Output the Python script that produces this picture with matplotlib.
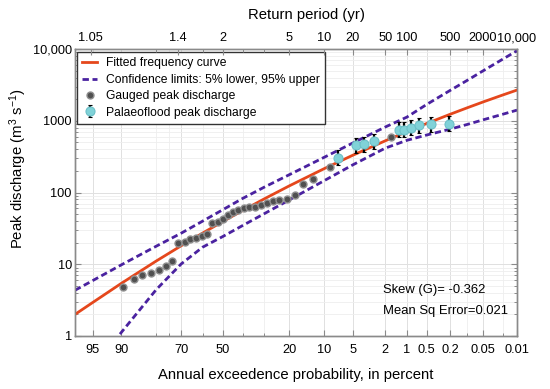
import numpy as np
import matplotlib
matplotlib.use('Agg')
import matplotlib.pyplot as plt
from matplotlib.ticker import FixedLocator, NullFormatter, LogLocator
from statistics import NormalDist

plt.rcParams['font.family'] = ['Liberation Sans', 'DejaVu Sans']
plt.rcParams['mathtext.fontset'] = 'custom'
plt.rcParams['mathtext.rm'] = 'Liberation Sans'
plt.rcParams['mathtext.it'] = 'Liberation Sans:italic'
plt.rcParams['mathtext.bf'] = 'Liberation Sans:bold'

# ---------------- data (annual exceedance probability in percent, discharge m3/s)
curve_p = [96.9, 95, 90, 80, 70, 60, 50, 40, 30, 20, 10, 5, 2, 1, 0.5, 0.2, 0.1, 0.05, 0.02, 0.01]
fitted_q = [2.0, 2.92, 5.41, 11.06, 18.1, 27.2, 39.3, 56.2, 81.4, 123.7, 214.8, 331, 525, 705, 914, 1236, 1516, 1828, 2288, 2676]
upper_q = [4.34, 5.9, 9.8, 17.8, 27.1, 39.9, 57.4, 82.8, 118.6, 177, 309, 490, 817, 1122, 1683, 2663, 3656, 4965, 7230, 9460]
lower_q = [0.19, 0.36, 1.12, 4.41, 10.1, 17.3, 24.3, 34.7, 50.6, 78.8, 146, 243, 415, 533, 632, 766, 888, 1030, 1233, 1406]

gauged_p = [89.7, 87.0, 84.5, 81.8, 79.1, 76.3, 73.8, 71.4, 68.5, 65.9, 63.1, 60.4, 57.9, 55.4,
            52.6, 49.9, 47.5, 44.6, 42.1, 39.6, 36.8, 34.1, 31.5, 28.8, 26.3, 23.7, 20.9, 18.0,
            15.6, 12.7, 8.74, 1.68]
gauged_q = [4.8, 6.2, 7.1, 7.6, 8.2, 9.5, 11.1, 19.8, 20.7, 22.3, 23.1, 24.6, 26.2, 37.7,
            39.3, 43.3, 48.0, 54.2, 57.2, 60.4, 63.0, 63.6, 66.5, 72.3, 76.4, 79.6, 81.4, 92.6,
            130.6, 153.4, 227.5, 596]

palaeo_p = [7.19, 4.59, 3.70, 2.79, 1.29, 1.09, 0.866, 0.648, 0.428, 0.212]
palaeo_q = [304, 457, 472, 516, 747, 754, 804, 869, 897, 914]
palaeo_lo = [239, 359, 371, 405, 587, 592, 632, 683, 705, 718]
palaeo_hi = [387, 582, 601, 657, 951, 960, 1024, 1106, 1142, 1164]

bottom_ticks = [95, 90, 70, 50, 20, 10, 5, 2, 1, 0.5, 0.2, 0.05, 0.01]
bottom_labels = ['95', '90', '70', '50', '20', '10', '5', '2', '1', '0.5', '0.2', '0.05', '0.01']
bottom_minor = [80, 75, 60, 40, 30, 0.1, 0.02]
top_periods = [1.05, 1.4, 2, 5, 10, 20, 50, 100, 500, 2000, 10000]
top_labels = ['1.05', '1.4', '2', '5', '10', '20', '50', '100', '500', '2000', '10,000']
top_minor_periods = [1.25, 1.6667, 2.5, 3.3333, 1000, 5000]
y_ticks = [1, 10, 100, 1000, 10000]
y_labels = ['1', '10', '100', '1000', '10,000']

# ---------------- normal probability scale
_nd = NormalDist()
_vinv = np.vectorize(lambda v: _nd.inv_cdf(v / 100.0), otypes=[float])
_vcdf = np.vectorize(lambda v: 100.0 * _nd.cdf(v), otypes=[float])


def _fwd(p):
    p = np.clip(np.asarray(p, dtype=float), 1e-9, 100 - 1e-9)
    return _vinv(p)


def _inv(z):
    z = np.clip(np.asarray(z, dtype=float), -30, 30)
    return _vcdf(z)


W, H = 550, 389
fig = plt.figure(figsize=(W / 100, H / 100), dpi=100)
L, R, T, B = 75, 517, 49, 336
ax = fig.add_axes([L / W, 1 - B / H, (R - L) / W, (B - T) / H])

ax.set_yscale('log')
ax.set_xscale('function', functions=(_fwd, _inv))
ax.set_xlim(96.9, 0.01)
ax.set_ylim(1, 10000)

red = '#E5471C'
purple = '#4A22A0'
ax.plot(curve_p, fitted_q, color=red, lw=2.0, zorder=3, label='Fitted frequency curve')
ax.plot(curve_p, upper_q, color=purple, lw=2.0, ls=(0, (2.3, 1.3)), zorder=3,
        label='Confidence limits: 5% lower, 95% upper')
ax.plot(curve_p, lower_q, color=purple, lw=2.0, ls=(0, (2.3, 1.3)), zorder=3)
ax.plot(gauged_p, gauged_q, 'o', ms=5, mfc='#505050', mec='#8f8f8f', mew=1.0, zorder=4,
        label='Gauged peak discharge')
pq = np.array(palaeo_q)
yerr = [pq - np.array(palaeo_lo), np.array(palaeo_hi) - pq]
ax.errorbar(palaeo_p, palaeo_q, yerr=yerr, fmt='o', ms=6.5, mfc='#80D2D8', mec='#6cc0c8', mew=0.8,
            ecolor='black', elinewidth=1.6, capsize=1.6, capthick=1.4, zorder=5,
            label='Palaeoflood peak discharge')

# ticks
ax.xaxis.set_major_locator(FixedLocator(bottom_ticks))
ax.set_xticklabels(bottom_labels)
ax.xaxis.set_minor_locator(FixedLocator(bottom_minor))
ax.xaxis.set_minor_formatter(NullFormatter())
ax.yaxis.set_major_locator(FixedLocator(y_ticks))
ax.set_yticklabels(y_labels)
ax.yaxis.set_minor_locator(LogLocator(base=10, subs=np.arange(2, 10)))
ax.yaxis.set_minor_formatter(NullFormatter())

spine_c = '#8a8a8a'
ax.tick_params(which='both', direction='in', color=spine_c, labelsize=9.2, right=True, top=False)
ax.tick_params(which='major', length=4, width=0.8)
ax.tick_params(which='minor', length=2.5, width=0.7)
ax.tick_params(axis='x', pad=5.5)
ax.tick_params(axis='y', pad=2.3)
for s in ax.spines.values():
    s.set_color(spine_c)
    s.set_linewidth(1.0)

ax.grid(which='major', color='#e0e0e0', lw=0.7)
ax.grid(which='minor', color='#eeeeee', lw=0.6)
ax.set_axisbelow(True)

ax2 = ax.twiny()
ax2.set_xscale('function', functions=(_fwd, _inv))
ax2.set_xlim(96.9, 0.01)
ax2.xaxis.set_major_locator(FixedLocator([100.0 / t for t in top_periods]))
ax2.set_xticklabels(top_labels)
ax2.xaxis.set_minor_locator(FixedLocator([100.0 / t for t in top_minor_periods]))
ax2.xaxis.set_minor_formatter(NullFormatter())
ax2.tick_params(which='both', direction='in', color=spine_c, labelsize=9.2, pad=3.3)
ax2.tick_params(which='major', length=4, width=0.8)
ax2.tick_params(which='minor', length=2.5, width=0.7)
for s in ax2.spines.values():
    s.set_color(spine_c)
    s.set_linewidth(1.0)

leg = ax.legend(loc='upper left', bbox_to_anchor=(0.0045, 0.9895), borderaxespad=0,
                fontsize=8.7, frameon=True, fancybox=False, framealpha=1,
                edgecolor='#333333', handlelength=1.2, handletextpad=0.75,
                borderpad=0.45, labelspacing=0.36)
leg.get_frame().set_linewidth(1.0)
leg.set_zorder(10)

fig.text(383 / W, 1 - 289.5 / H, 'Skew (G)= -0.362', fontsize=9.4, ha='left', va='center')
fig.text(383 / W, 1 - 311 / H, 'Mean Sq Error=0.021', fontsize=9.4, ha='left', va='center')

fig.text(296 / W, 1 - 375 / H, 'Annual exceedence probability, in percent', fontsize=10.7,
         ha='center', va='center')
fig.text(306 / W, 1 - 15 / H, 'Return period (yr)', fontsize=10.7, ha='center', va='center')
fig.text(18 / W, 1 - 169 / H, 'Peak discharge (m$^{3}$ s$^{-1}$)', fontsize=10.7,
         ha='center', va='center', rotation=90)

fig.savefig('out.png', dpi=100)
